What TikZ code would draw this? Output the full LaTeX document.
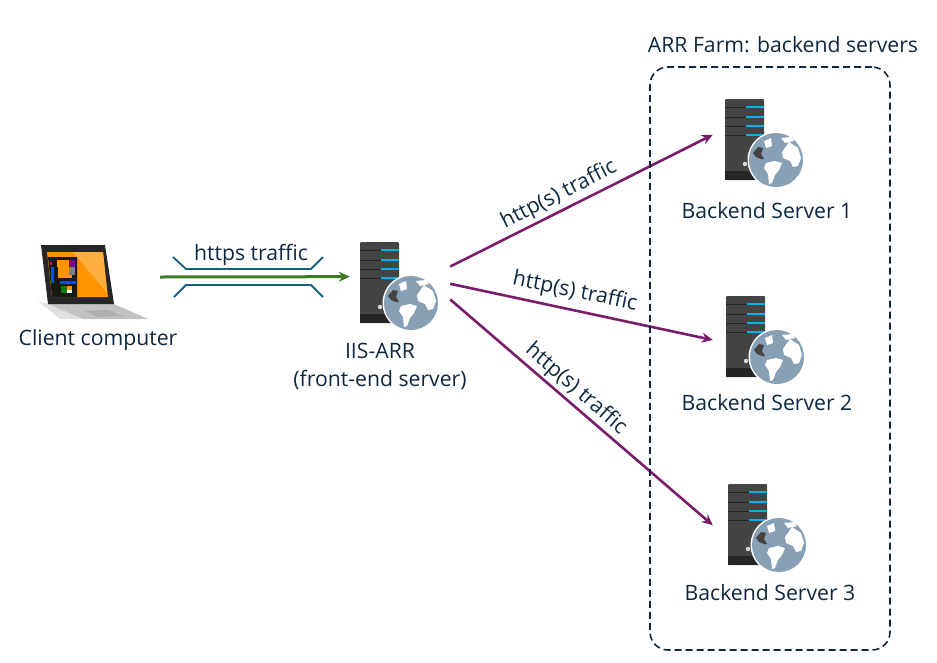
\documentclass[tikz,border=0pt]{standalone}
\usepackage{fontspec}
\setmainfont{Open Sans}
\usetikzlibrary{positioning}
\usetikzlibrary{arrows.meta}
\definecolor{navy}{RGB}{14,40,65}
\definecolor{traffic}{RGB}{122,28,108}
\definecolor{tunnel}{RGB}{21,96,130}
\definecolor{greenarrow}{RGB}{58,125,34}
\definecolor{globe}{RGB}{135,160,182}
\definecolor{rack}{RGB}{68,68,68}
\definecolor{ledblue}{RGB}{0,178,236}
\definecolor{tileorange}{RGB}{255,148,0}
\tikzset{
    label/.style={font=\fontsize{21.2}{28}\selectfont, text=navy, align=center, inner sep=0pt},
    iconbox/.style={minimum width=#1, minimum height=90pt, inner sep=0pt},
    flow/.style={-{Stealth[length=11pt,width=10pt]}, traffic, line width=2.6pt},
    pics/serverglobe/.style={code={
        \fill[rack, rounded corners=1pt] (0,0) rectangle (39,81);
        \fill[rack!55!black] (0,72) rectangle (39,81);
        \foreach \y in {8,18,27,36} {
            \draw[black!85, line width=0.8pt] (0,\y) -- (21,\y);
            \draw[ledblue, line width=2.4pt] (21,\y) -- (39,\y);
        }
        \fill[white!85!black] (20,65) circle (2.2);
        \fill[white] (51,61) circle (28.5);
        \fill[globe] (51,61) circle (27);
        \begin{scope}[shift={(51,61)}]
            \fill[white] (-10,3) -- (-1,1) -- (6,3) -- (3,10) -- (-1,15) -- (-4,23) -- (-7,24) -- (-8,14) -- (-12,8) -- cycle;
            \fill[white] (6,-8) -- (13,-18) -- (22,-12) -- (25,-2) -- (22,6) -- (17,7) -- (14,1) -- (7,-2) -- cycle;
            \fill[white] (5,-22) -- (15,-23) -- (18,-19) -- (9,-17) -- cycle;
            \fill[white] (-12,-19) -- (-5,-22) -- (-4,-14) -- (-10,-12) -- cycle;
            \fill[rack] (-23,-7) -- (-18,-13) -- (-13,-12) -- (-15,-6) -- (-12,-1) -- (-15,-1) -- (-20,-3) -- cycle;
        \end{scope}
    }},
}
\begin{document}
\begin{tikzpicture}[x=1pt, y=-1pt]
    \useasboundingbox (0,0) rectangle (937,662);

    % laptop
    \fill[black!12] (38,301) -- (48,304) -- (83,319) -- (60,319) -- cycle;
    \fill[black!24] (48,304) -- (114,304) -- (148,319) -- (83,319) -- cycle;
    \fill[black!32] (85,311) -- (108,310) -- (123,316) -- (98,317) -- cycle;
    \fill[black!85] (41,245) -- (105,245) -- (114,304) -- (48,304) -- cycle;
    \fill[tileorange] (47,252) -- (103,252) -- (108,297) -- (52,297) -- cycle;
    \fill[tileorange!75!white] (73,252) -- (103,252) -- (107,293) -- cycle;
    \fill[black!90] (48,257) -- (77,257) -- (77,297) -- (52,297) -- cycle;
    \fill[tileorange] (57,260) rectangle (69,267);
    \fill[violet] (69,260) rectangle (75,267);
    \fill[tileorange] (58,267) rectangle (69,278);
    \fill[gray] (69,267) rectangle (75,275);
    \fill[tileorange] (69,275) rectangle (72,278);
    \fill[blue!70!cyan] (60,281) rectangle (76,284);
    \fill[green!50!black] (61,286) rectangle (67,293);
    \fill[tileorange] (67,286) rectangle (72,290);
    \fill[white] (67,290) rectangle (72,293);
    \fill[magenta] (50,262) rectangle (52,265);
    \fill[blue!70!cyan] (51,267) rectangle (54,283);

    % server icons
    \pic at (360,242) {serverglobe};
    \pic at (725,99) {serverglobe};
    \pic at (726,296) {serverglobe};
    \pic at (728,484) {serverglobe};

    \node[iconbox=134pt] (client) at (93,277) {};
    \node[iconbox=90pt] (frontend) at (405,283) {};
    \node[iconbox=104pt] (backendone) at (765,143) {};
    \node[iconbox=104pt] (backendtwo) at (765,340) {};
    \node[iconbox=104pt] (backendthree) at (765,528) {};

    % tunnel
    \draw[tunnel, line width=1.8pt] (173,257) -- (186,269) -- (311,269) -- (323,257);
    \draw[tunnel, line width=1.8pt] (174,297) -- (186,285) -- (311,285) -- (323,297);
    \draw[-{Stealth[length=11pt,width=10pt]}, greenarrow, line width=3pt, shorten >=10pt] (client.east) -- (frontend.172);

    \draw[flow] (frontend.20) -- (backendone.171);
    \draw[flow] (frontend.-1) -- (backendtwo.west);
    \draw[flow] (frontend.-20) -- (backendthree.177);

    % farm
    \node[draw=navy, dash pattern=on 7pt off 4pt, line width=1.6pt, rounded corners=18pt, minimum width=240pt, minimum height=583pt, inner sep=0pt] (farm) at (770,358.5) {};

    \node[label] (clientlabel) at (98,340) {Client computer};
    \node[label] (httpslabel) at (251,255) {https traffic};
    \node[label] (frontendlabel) at (380,366) {IIS-ARR\\(front-end server)};
    \node[label] (farmlabel) at (783,45) {ARR Farm: backend servers};
    \node[label] (backendonelabel) at (767,211) {Backend Server 1};
    \node[label] (backendtwolabel) at (767,403) {Backend Server 2};
    \node[label] (backendthreelabel) at (770,593) {Backend Server 3};
    \node[label, rotate=27] (trafficone) at (559,195) {http(s) traffic};
    \node[label, rotate=-11.5] (traffictwo) at (575,292) {http(s) traffic};
    \node[label, rotate=-41] (trafficthree) at (576,389) {http(s) traffic};
\end{tikzpicture}
\end{document}
